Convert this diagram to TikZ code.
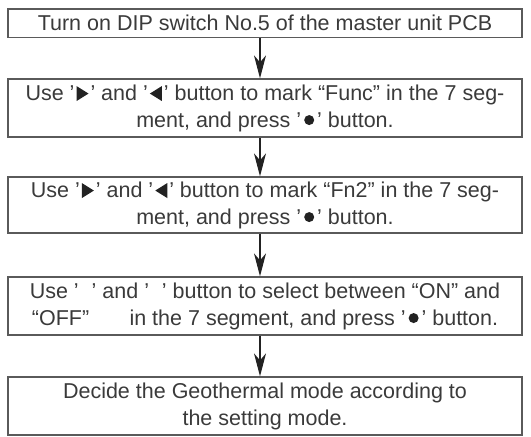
\documentclass[tikz,border=0pt]{standalone}
\usepackage{fontspec}
\setmainfont{Liberation Sans}
\usetikzlibrary{arrows.meta}
\definecolor{txt}{HTML}{3A3A3A}
\definecolor{ln}{HTML}{5A5A5A}
\definecolor{arr}{HTML}{222222}
\newcommand{\rtri}{\hspace{2pt}\tikz[baseline=1pt]\fill[arr] (0pt,0pt)--(0pt,15pt)--(12pt,7.5pt)--cycle;\hspace{2pt}}
\newcommand{\ltri}{\hspace{2pt}\tikz[baseline=1pt]\fill[arr] (12pt,0pt)--(12pt,15pt)--(0pt,7.5pt)--cycle;\hspace{2pt}}
\newcommand{\bdot}{\hspace{3pt}\tikz[baseline=0pt]\fill[arr] (5pt,7pt) circle[radius=5pt];\hspace{3pt}}
\begin{document}
\begin{tikzpicture}[x=1pt,y=-1pt,
  stepbox/.style={draw=ln, line width=1.3pt, minimum width=514pt, inner sep=0pt,
    text=txt, align=center, font=\fontsize{21.5}{27}\selectfont},
  flow/.style={draw=arr, line width=1.2pt, -{Stealth[length=23pt,width=12pt,inset=7pt]}}]
\useasboundingbox (0,0) rectangle (531,437);
\node[stepbox, minimum height=28.5pt] (b1) at (265,23.25) {Turn on DIP switch No.5 of the master unit PCB};
\node[stepbox, minimum height=58pt] (b2) at (265,108) {Use ’\rtri’ and ’\ltri’ button to mark “Func” in the 7 seg-\\ment, and press ’\bdot’ button.};
\node[stepbox, minimum height=56pt] (b3) at (265,205) {Use ’\rtri’ and ’\ltri’ button to mark “Fn2” in the 7 seg-\\ment, and press ’\bdot’ button.};
\node[stepbox, minimum height=58pt] (b4) at (265,306) {Use ’\hspace{0.6em}’ and ’\hspace{0.6em}’ button to select between “ON” and\\“OFF”\hspace{1.6em} in the 7 segment, and press ’\bdot’ button.};
\node[stepbox, minimum height=58pt] (b5) at (265,406) {Decide the Geothermal mode according to\\the setting mode.};
\foreach \a/\b in {b1/b2,b2/b3,b3/b4,b4/b5}
  \draw[flow] ([xshift=-5pt]\a.south) -- ([xshift=-5pt]\b.north);
\end{tikzpicture}
\end{document}
